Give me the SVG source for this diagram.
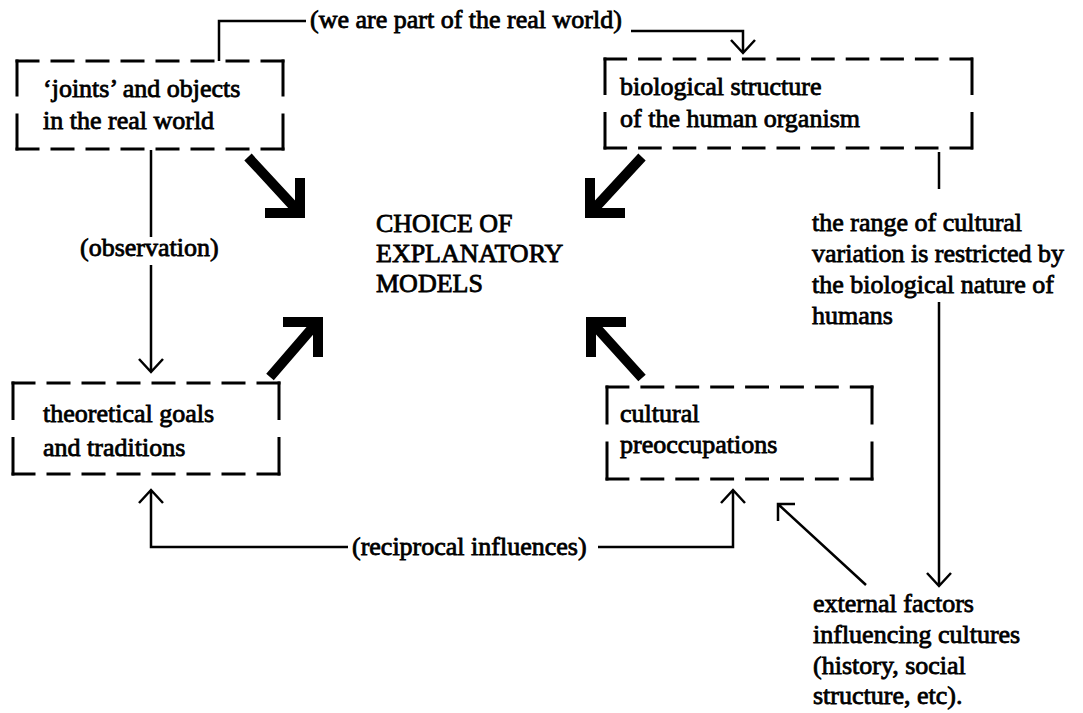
<svg xmlns="http://www.w3.org/2000/svg" width="1083" height="713" viewBox="0 0 1083 713">
<style>
text{font-family:"Liberation Serif","Times New Roman",serif;font-size:26px;fill:#000;stroke:#000;stroke-width:0.8}
.box path{fill:none;stroke:#000;stroke-width:3;stroke-linecap:square}
.thin{fill:none;stroke:#000;stroke-width:2.5}
.thick{fill:none;stroke:#000;stroke-width:10;stroke-linejoin:miter;stroke-miterlimit:10}
</style>
<rect width="1083" height="713" fill="#fff"/>
<g id="connectors">
<path class="thin" d="M219,61 V21 H306"/>
<path class="thin" d="M631,31 H743 V52 M731,40 L743,53 L755,40"/>
<path class="thin" d="M151,150 V237 M151,265 V371 M139,359 L151,372 L163,359"/>
<path class="thin" d="M151,491 V547 H348 M139,503 L151,490 L163,503"/>
<path class="thin" d="M598,547 H733 V490 M721,503 L733,490 L745,503"/>
<path class="thin" d="M939,152 V189 M939,302 V585 M927,573 L939,586 L951,573"/>
<path class="thin" d="M866,585 L779,505 M795,504 H778 V521"/>
<path class="thick" d="M248,157 L296,209 M300,178 V213 H265"/>
<path class="thick" d="M642,157 L594,209 M590,178 V213 H625"/>
<path class="thick" d="M642,378 L595,326 M626,322 H591 V357"/>
<path class="thick" d="M270,377 L314,326 M283,322 H318 V357"/>
</g>
<g id="joints" class="box">
<path d="M17,61 H283" stroke-dasharray="21 14"/>
<path d="M17,149 H283" stroke-dasharray="21 14"/>
<path d="M17,61 V149" stroke-dasharray="34 20"/>
<path d="M283,61 V149" stroke-dasharray="34 20"/>
<text x="43" y="97">‘joints’ and objects</text>
<text x="43" y="129">in the real world</text>
</g>
<g id="biological" class="box">
<path d="M605,59 H972" stroke-dasharray="20.6 14"/>
<path d="M605,148 H972" stroke-dasharray="20.6 14"/>
<path d="M605,59 V148" stroke-dasharray="34.5 20"/>
<path d="M972,59 V148" stroke-dasharray="34.5 20"/>
<text x="620" y="95">biological structure</text>
<text x="620" y="127">of the human organism</text>
</g>
<g id="theoretical" class="box">
<path d="M13,383 H279" stroke-dasharray="21 14"/>
<path d="M13,474 H279" stroke-dasharray="21 14"/>
<path d="M13,383 V474" stroke-dasharray="35.5 20"/>
<path d="M279,383 V474" stroke-dasharray="35.5 20"/>
<text x="43" y="422">theoretical goals</text>
<text x="43" y="456">and traditions</text>
</g>
<g id="cultural" class="box">
<path d="M607,387 H872" stroke-dasharray="20.9 14"/>
<path d="M607,479 H872" stroke-dasharray="20.9 14"/>
<path d="M607,387 V479" stroke-dasharray="36 20"/>
<path d="M872,387 V479" stroke-dasharray="36 20"/>
<text x="620" y="422">cultural</text>
<text x="620" y="453">preoccupations</text>
</g>
<g id="choice">
<text x="376" y="232">CHOICE OF</text>
<text x="376" y="262">EXPLANATORY</text>
<text x="376" y="292">MODELS</text>
</g>
<g id="labels">
<text x="80" y="256">(observation)</text>
<text x="310" y="28">(we are part of the real world)</text>
<text x="352" y="555">(reciprocal influences)</text>
</g>
<g id="range">
<text x="812" y="231">the range of cultural</text>
<text x="812" y="262">variation is restricted by</text>
<text x="812" y="293">the biological nature of</text>
<text x="812" y="324">humans</text>
</g>
<g id="external">
<text x="813" y="612">external factors</text>
<text x="813" y="643">influencing cultures</text>
<text x="813" y="674">(history, social</text>
<text x="813" y="704">structure, etc).</text>
</g>
</svg>
